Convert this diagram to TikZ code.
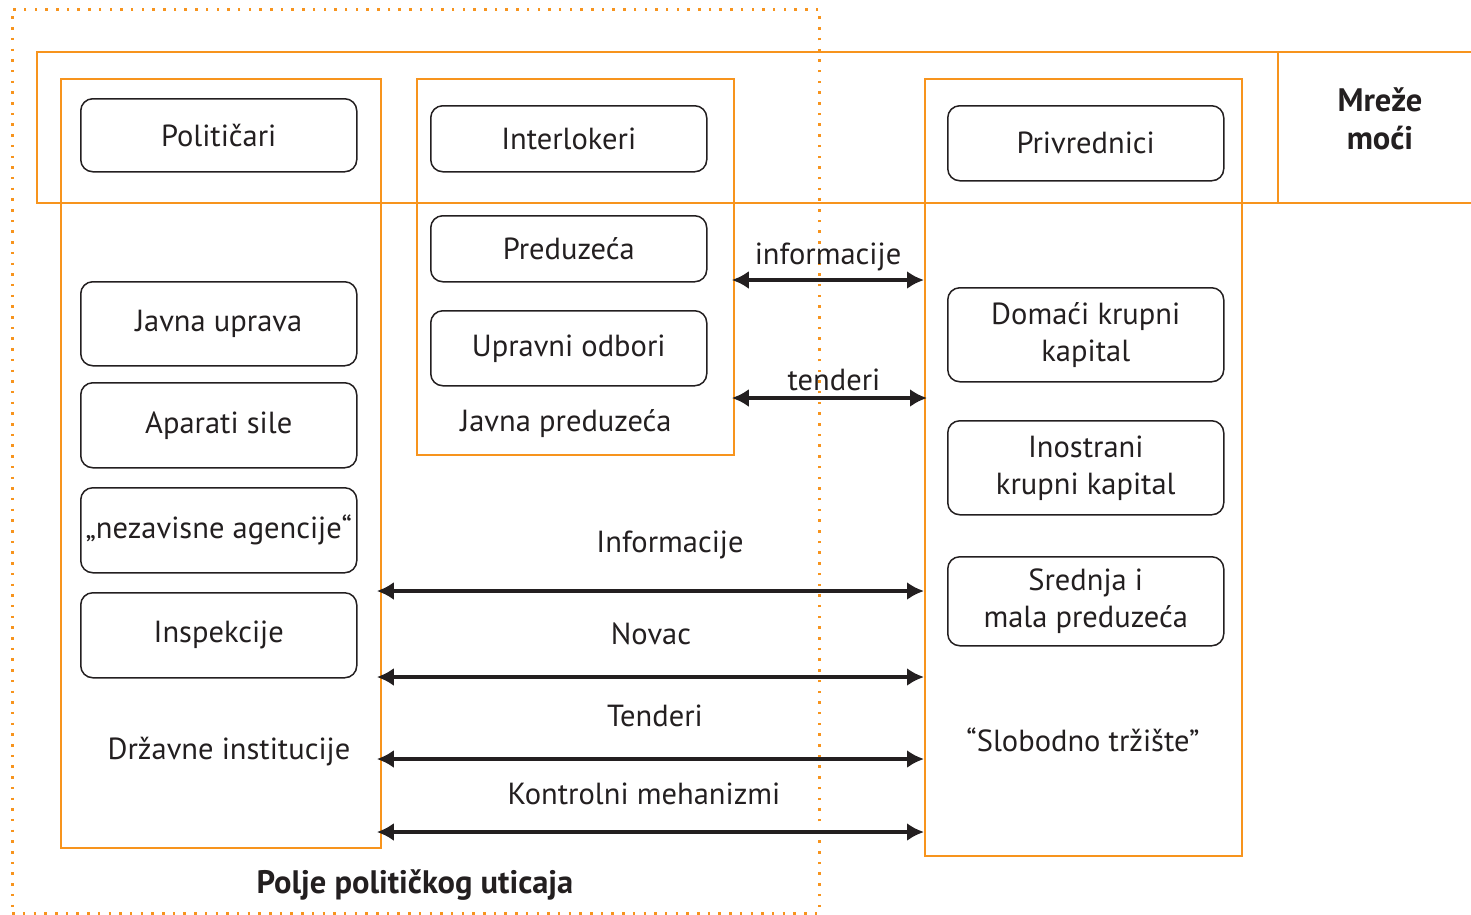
\documentclass[tikz,border=0pt]{standalone}
\usepackage{fontspec}
\setmainfont{PT Sans}
\usetikzlibrary{arrows.meta}
\definecolor{org}{HTML}{F7941D}
\definecolor{ink}{HTML}{231F20}
\tikzset{
  frame/.style={draw=org, line width=1.8pt, rectangle, inner sep=0pt},
  rbox/.style={draw=ink, line width=1.5pt, rounded corners=12pt, rectangle, inner sep=0pt, align=center, text=ink},
  lbl/.style={text=ink, font=\fontsize{30.5}{37}\selectfont, inner sep=0pt, align=center},
  blbl/.style={text=ink, font=\fontsize{32.5}{38}\selectfont\bfseries, inner sep=0pt, align=center},
  biarrow/.style={draw=ink, line width=3.5pt, {Latex[length=17pt,width=18pt]}-{Latex[length=17pt,width=18pt]}},
}
\begin{document}
\begin{tikzpicture}[x=1pt,y=-1pt]
\useasboundingbox (0,0) rectangle (1471,914);
% dotted field
\node[draw=org, line width=2.5pt, dash pattern=on 2.5pt off 8.2pt, rectangle, inner sep=0pt, minimum width=807pt, minimum height=904pt, anchor=north west] (field) at (11,8) {};
% networks band
\node[frame, minimum width=1460pt, minimum height=151pt, anchor=north west] (band) at (36,51) {};
\node[frame, minimum width=220pt, minimum height=151pt, anchor=north west] (mrez) at (1277,51) {};
\node[blbl] (mreztxt) at (1380,119) {Mreže\\moći};
% columns
\node[frame, minimum width=320pt, minimum height=769pt, anchor=north west] (dz) at (60,78) {};
\node[frame, minimum width=317pt, minimum height=376pt, anchor=north west] (jp) at (416,78) {};
\node[frame, minimum width=317pt, minimum height=777pt, anchor=north west] (sl) at (924,78) {};
% left boxes
\node[rbox, minimum width=276pt, minimum height=73pt, anchor=north west] (pol) at (80,98) {};
\node[lbl] at (pol.center) {Političari};
\node[rbox, minimum width=276pt, minimum height=84pt, anchor=north west] (ju) at (80,281) {};
\node[lbl] at (ju.center) {Javna uprava};
\node[rbox, minimum width=276pt, minimum height=85pt, anchor=north west] (as) at (80,382) {};
\node[lbl] at (as.center) {Aparati sile};
\node[rbox, minimum width=276pt, minimum height=85pt, anchor=north west] (na) at (80,487) {};
\node[lbl] at (na.center) {„nezavisne agencije“};
\node[rbox, minimum width=276pt, minimum height=85pt, anchor=north west] (ins) at (80,592) {};
\node[lbl] at (ins.center) {Inspekcije};
\node[lbl] (dztxt) at (229,752) {Državne institucije};
% middle boxes
\node[rbox, minimum width=276pt, minimum height=66pt, anchor=north west] (int) at (430,105) {};
\node[lbl] at (int.center) {Interlokeri};
\node[rbox, minimum width=276pt, minimum height=66pt, anchor=north west] (pred) at (430,215) {};
\node[lbl] at (pred.center) {Preduzeća};
\node[rbox, minimum width=276pt, minimum height=75pt, anchor=north west] (uo) at (430,310) {};
\node[lbl] at (uo.center) {Upravni odbori};
\node[lbl] (jptxt) at (566,424) {Javna preduzeća};
% right boxes
\node[rbox, minimum width=276pt, minimum height=75pt, anchor=north west] (priv) at (947,105) {};
\node[lbl] at (priv.center) {Privrednici};
\node[rbox, minimum width=276pt, minimum height=94pt, anchor=north west] (dk) at (947,287) {};
\node[lbl] at (dk.center) {Domaći krupni\\kapital};
\node[rbox, minimum width=276pt, minimum height=94pt, anchor=north west] (ik) at (947,420) {};
\node[lbl] at (ik.center) {Inostrani\\krupni kapital};
\node[rbox, minimum width=276pt, minimum height=89pt, anchor=north west] (smp) at (947,556) {};
\node[lbl] at (smp.center) {Srednja i\\mala preduzeća};
\node[lbl] (sltxt) at (1083,740) {“Slobodno tržište”};
% bottom label
\node[blbl] (poltxt) at (415,885) {Polje političkog uticaja};
% arrows
\coordinate (a1l) at (737,280);
\draw[biarrow, shorten <=-3pt] (jp.east |- a1l) -- (sl.west |- a1l);
\node[lbl] at (828,257) {informacije};
\coordinate (a2l) at (737,398);
\draw[biarrow, shorten <=-3pt] (jp.east |- a2l) -- ([xshift=3pt]sl.west |- a2l);
\node[lbl] at (834,380) {tenderi};
\coordinate (b1) at (0,591);
\draw[biarrow, shorten <=-5pt] (dz.east |- b1) -- (sl.west |- b1);
\node[lbl] at (670,545) {Informacije};
\coordinate (b2) at (0,677);
\draw[biarrow, shorten <=-5pt] (dz.east |- b2) -- (sl.west |- b2);
\node[lbl] at (651,634) {Novac};
\coordinate (b3) at (0,759);
\draw[biarrow, shorten <=-5pt] (dz.east |- b3) -- (sl.west |- b3);
\node[lbl] at (655,716) {Tenderi};
\coordinate (b4) at (0,832);
\draw[biarrow, shorten <=-5pt] (dz.east |- b4) -- (sl.west |- b4);
\node[lbl] at (644,794) {Kontrolni mehanizmi};
\end{tikzpicture}
\end{document}
